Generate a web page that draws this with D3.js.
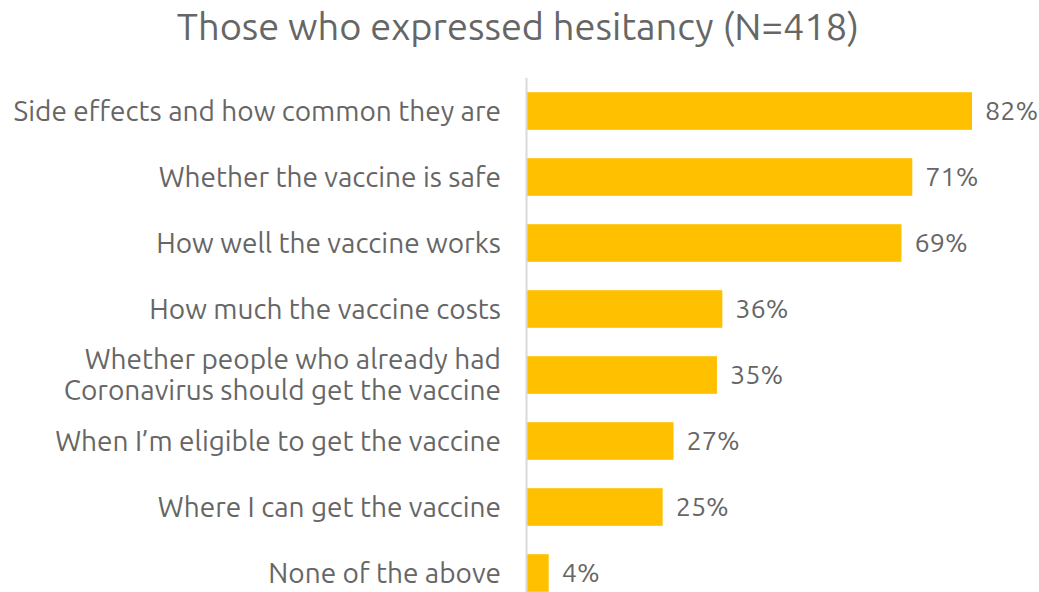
<!DOCTYPE html>
<html><head><meta charset="utf-8">
<script src="https://cdn.jsdelivr.net/npm/d3@7"></script>
<style>body{margin:0;background:#fff}svg{display:block}</style>
</head><body>
<script>
const categories = [
  ["Side effects and how common they are"],
  ["Whether the vaccine is safe"],
  ["How well the vaccine works"],
  ["How much the vaccine costs"],
  ["Whether people who already had", "Coronavirus should get the vaccine"],
  ["When I\u2019m eligible to get the vaccine"],
  ["Where I can get the vaccine"],
  ["None of the above"]
];
const values = [82, 71, 69, 36, 35, 27, 25, 4];
const valueLabels = ["82%", "71%", "69%", "36%", "35%", "27%", "25%", "4%"];
const title = "Those who expressed hesitancy (N=418)";

const W = 1039, H = 592;
const FONT = "Ubuntu, 'Noto Sans', 'Open Sans', sans-serif";
const TXT = "#666666";
const svg = d3.select("body").append("svg").attr("width", W).attr("height", H);

const x = d3.scaleLinear().domain([0, 82]).range([527, 972]);
const y = d3.scaleBand().domain(d3.range(categories.length)).range([78, 606])
  .paddingInner(0.43).paddingOuter(0.215);

svg.append("text").attr("x", 518).attr("y", 40).attr("text-anchor", "middle")
  .attr("font-family", FONT).attr("font-size", 38).attr("fill", TXT).text(title);

svg.selectAll("rect.bar").data(values).join("rect").attr("class", "bar")
  .attr("x", x(0)).attr("y", (d, i) => y(i))
  .attr("width", d => x(d) - x(0)).attr("height", y.bandwidth())
  .attr("fill", "#FFC000");

svg.append("line").attr("x1", 526.5).attr("x2", 526.5).attr("y1", 78).attr("y2", H)
  .attr("stroke", "#d9d9d9").attr("stroke-width", 2);

const lab = svg.selectAll("text.cat").data(categories).join("text").attr("class", "cat")
  .attr("text-anchor", "end").attr("font-family", FONT).attr("font-size", 28).attr("fill", TXT)
  .attr("transform", (d, i) => `translate(501,${y(i) + y.bandwidth() / 2})`);
lab.each(function(lines) {
  const t = d3.select(this);
  const lh = 31;
  lines.forEach((s, k) => {
    t.append("tspan").attr("x", 0)
      .attr("y", (k - (lines.length - 1) / 2) * lh)
      .attr("dy", "0.35em").text(s);
  });
});

svg.selectAll("text.val").data(values).join("text").attr("class", "val")
  .attr("x", d => x(d) + 13).attr("y", (d, i) => y(i) + y.bandwidth() / 2)
  .attr("dy", "0.35em").attr("font-family", FONT).attr("font-size", 27).attr("fill", TXT)
  .text((d, i) => valueLabels[i]);
</script>
</body></html>
